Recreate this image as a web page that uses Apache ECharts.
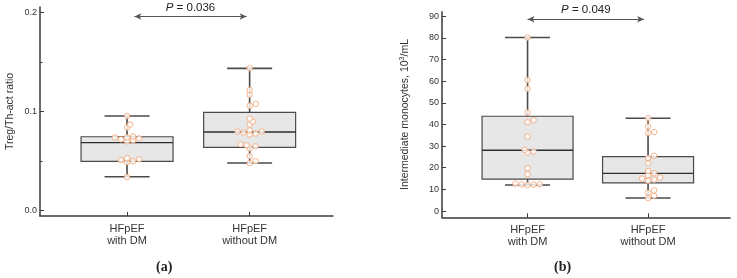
<!DOCTYPE html>
<html>
<head>
<meta charset="utf-8">
<script src="https://cdn.jsdelivr.net/npm/echarts@6/dist/echarts.min.js"></script>
<style>
  html, body { margin: 0; padding: 0; background: #fff; }
  #chart { width: 737px; height: 278px; }
</style>
</head>
<body>
<div id="chart"></div>
<script>
// categories
const groups = ['HFpEF\nwith DM', 'HFpEF\nwithout DM'];

// panel (a): Treg/Th-act ratio  [low whisker, Q1, median, Q3, high whisker]
const tregBox = [
    [0.0343, 0.0499, 0.0687, 0.0747, 0.0956],
    [0.0482, 0.0640, 0.0795, 0.0994, 0.1438]
];
const tregWithDM = [0.0956, 0.087, 0.084, 0.075, 0.074, 0.074, 0.073, 0.072, 0.071, 0.070,
    0.053, 0.052, 0.051, 0.050, 0.049, 0.034];
const tregWithoutDM = [0.144, 0.122, 0.117, 0.108, 0.106, 0.093, 0.090, 0.087, 0.081, 0.080,
    0.080, 0.079, 0.078, 0.077, 0.067, 0.066, 0.065, 0.063, 0.055, 0.050, 0.048];
const tregTicks = [0, 0.1, 0.2];
const tregMinorTicks = [0.05, 0.15];
const tregP = 'P = 0.036';

// panel (b): intermediate monocytes
const monoBox = [
    [12.0, 14.7, 28.1, 43.8, 80.2],
    [6.0, 13.0, 17.4, 25.1, 42.9]
];
const monoWithDM = [80.2, 60.5, 56.5, 45.5, 42, 41, 34.4, 28.3, 27.5, 27, 19.8, 17,
    12.6, 12.4, 12.2, 12.0, 12.3];
const monoWithoutDM = [42.9, 39, 36.5, 36, 25.5, 24.5, 22, 18.5, 17.5, 16.5, 15.5, 15,
    14.5, 14, 9.5, 8.5, 7, 6];
const monoTicks = [0, 10, 20, 30, 40, 50, 60, 70, 80, 90];
const monoP = 'P = 0.049';

const FONT = 'Liberation Sans, Arial, sans-serif';
const AXIS_COLOR = '#3a3a3a';

// grids in px
const gridA = {left: 40, top: 7, width: 293, height: 209};
const gridB = {left: 442, top: 11.7, width: 288, height: 205.6};
const yRangeA = [-0.0054, 0.2058];
const yRangeB = [-2.9, 92.1];
const xRange = [-0.71, 1.68];

// simple beeswarm: spread points sideways when they'd overlap
function swarm(idx, values, pxPerUnit) {
    const d = 5.5;
    const placed = [];
    return values.slice().sort((a, b) => a - b).map(v => {
        const y = v * pxPerUnit;
        let dx = 0;
        for (let k = 0; k < 30; k++) {
            const cand = k === 0 ? 0 : (k % 2 ? 1 : -1) * Math.ceil(k / 2) * d * 0.55;
            const ok = placed.every(p => Math.hypot(p.x - cand, p.y - y) >= d * 0.7);
            if (ok) { dx = cand; break; }
        }
        placed.push({x: dx, y: y});
        return {value: [idx, v], symbolOffset: [dx, 0]};
    });
}

function boxRender(halfBox, halfCap) {
    return function (params, api) {
        const x = api.value(0);
        const lo = api.coord([x, api.value(1)]);
        const q1 = api.coord([x, api.value(2)]);
        const med = api.coord([x, api.value(3)]);
        const q3 = api.coord([x, api.value(4)]);
        const hi = api.coord([x, api.value(5)]);
        const cx = lo[0];
        const whisker = {stroke: '#4a4a4a', lineWidth: 1.6};
        return {
            type: 'group',
            children: [
                {type: 'line', shape: {x1: cx, y1: hi[1], x2: cx, y2: q3[1]}, style: whisker},
                {type: 'line', shape: {x1: cx, y1: q1[1], x2: cx, y2: lo[1]}, style: whisker},
                {type: 'line', shape: {x1: cx - halfCap, y1: hi[1], x2: cx + halfCap, y2: hi[1]}, style: whisker},
                {type: 'line', shape: {x1: cx - halfCap, y1: lo[1], x2: cx + halfCap, y2: lo[1]}, style: whisker},
                {type: 'rect', shape: {x: cx - halfBox, y: q3[1], width: halfBox * 2, height: q1[1] - q3[1]},
                    style: {fill: '#e7e7e7', stroke: '#4a4a4a', lineWidth: 1.2}},
                {type: 'line', shape: {x1: cx - halfBox, y1: med[1], x2: cx + halfBox, y2: med[1]},
                    style: {stroke: '#2e2e2e', lineWidth: 1.4}}
            ]
        };
    };
}

function xAxisFor(gridIndex) {
    return {
        type: 'value', gridIndex: gridIndex, min: xRange[0], max: xRange[1], position: 'bottom',
        splitLine: {show: false},
        axisLine: {onZero: false, lineStyle: {color: AXIS_COLOR, width: 1.5}},
        axisTick: {inside: true, length: 4, lineStyle: {color: AXIS_COLOR}, customValues: [0, 1]},
        axisLabel: {
            customValues: [0, 1], margin: 7,
            formatter: v => groups[Math.round(v)],
            fontFamily: FONT, fontSize: 11, color: '#333', lineHeight: 12
        }
    };
}

function yAxisFor(gridIndex, range, ticks, fmt, name, nameGap) {
    return {
        type: 'value', gridIndex: gridIndex, min: range[0], max: range[1], position: 'left',
        splitLine: {show: false},
        axisLine: {onZero: false, lineStyle: {color: AXIS_COLOR, width: 1.5}},
        axisTick: {inside: true, length: 4, lineStyle: {color: AXIS_COLOR}, customValues: ticks},
        axisLabel: {customValues: ticks, formatter: fmt, margin: 3, fontFamily: FONT, fontSize: 9, color: '#333'},
        name: name, nameLocation: 'middle', nameGap: nameGap, nameRotate: 90,
        nameTextStyle: {
            fontFamily: FONT, fontSize: 10.5, color: '#333',
            rich: {sup: {fontFamily: FONT, fontSize: 7, color: '#333', verticalAlign: 'top', padding: [0, 0, 5, 0]}}
        }
    };
}

function bracket(p, x1, x2, y) {
    return {
        silent: true,
        symbol: ['arrow', 'arrow'], symbolSize: [5, 7],
        lineStyle: {color: '#555', width: 1, type: 'solid'},
        label: {
            show: true, position: 'middle', distance: 3,
            formatter: '{i|P}' + p.slice(1),
            fontFamily: FONT, fontSize: 11.5, color: '#222',
            rich: {i: {fontFamily: FONT, fontSize: 11.5, fontStyle: 'italic', color: '#222'}}
        },
        data: [[{coord: [x1, y]}, {coord: [x2, y]}]]
    };
}

function pointSeries(xi, yi, data, markLine) {
    const s = {
        type: 'scatter', xAxisIndex: xi, yAxisIndex: yi, z: 3,
        symbol: 'circle', symbolSize: 5.5,
        itemStyle: {color: '#fff', borderColor: '#f2a272', borderWidth: 1},
        data: data
    };
    if (markLine) s.markLine = markLine;
    return s;
}

const pxA = gridA.height / (yRangeA[1] - yRangeA[0]);
const pxB = gridB.height / (yRangeB[1] - yRangeB[0]);

const chart = echarts.init(document.getElementById('chart'), null, {renderer: 'canvas'});

const option = {
    animation: false,
    backgroundColor: '#fff',
    grid: [
        {left: gridA.left, top: gridA.top, width: gridA.width, height: gridA.height},
        {left: gridB.left, top: gridB.top, width: gridB.width, height: gridB.height}
    ],
    xAxis: [xAxisFor(0), xAxisFor(1)],
    yAxis: [
        yAxisFor(0, yRangeA, tregTicks, v => v.toFixed(1), 'Treg/Th-act ratio', 24),
        yAxisFor(1, yRangeB, monoTicks, v => String(v), 'Intermediate monocytes, 10{sup|3}/mL', 31),
        // minor ticks for panel (a)
        {
            type: 'value', gridIndex: 0, min: yRangeA[0], max: yRangeA[1], position: 'left',
            splitLine: {show: false}, axisLine: {show: false, onZero: false}, axisLabel: {show: false},
            axisTick: {inside: true, length: 2.5, lineStyle: {color: AXIS_COLOR}, customValues: tregMinorTicks}
        }
    ],
    series: [
        {
            type: 'custom', xAxisIndex: 0, yAxisIndex: 0, z: 2,
            renderItem: boxRender(46, 22.5),
            data: tregBox.map((b, i) => [i].concat(b))
        },
        pointSeries(0, 0, swarm(0, tregWithDM, pxA).concat(swarm(1, tregWithoutDM, pxA)),
            bracket(tregP, 0.06, 0.975, 0.1962)),
        {
            type: 'custom', xAxisIndex: 1, yAxisIndex: 1, z: 2,
            renderItem: boxRender(45.5, 22.5),
            data: monoBox.map((b, i) => [i].concat(b))
        },
        pointSeries(1, 1, swarm(0, monoWithDM, pxB).concat(swarm(1, monoWithoutDM, pxB)),
            bracket(monoP, 0.0, 0.967, 88.6))
    ],
    graphic: [
        {type: 'text', left: 156, top: 260, style: {text: '(a)', font: 'bold 14px "Liberation Serif", serif', fill: '#222'}},
        {type: 'text', left: 554, top: 260, style: {text: '(b)', font: 'bold 14px "Liberation Serif", serif', fill: '#222'}}
    ]
};

chart.setOption(option);
</script>
</body>
</html>
